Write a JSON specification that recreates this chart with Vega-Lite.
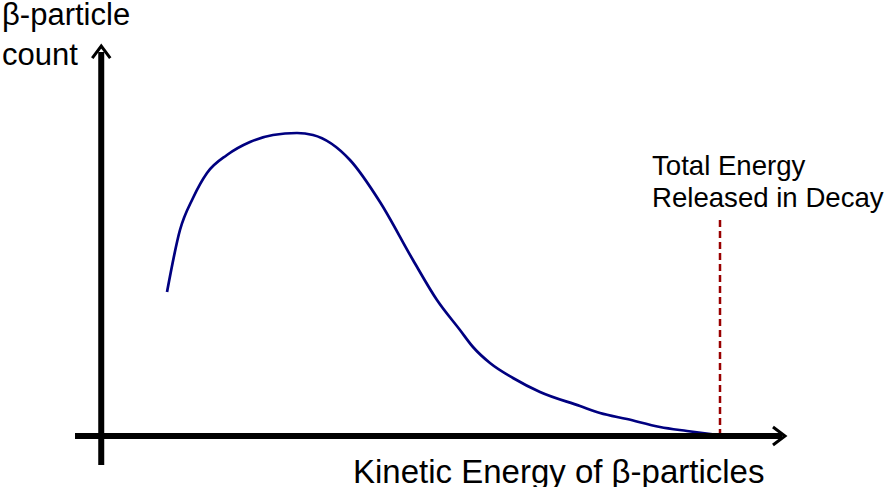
{
  "$schema": "https://vega.github.io/schema/vega-lite/v6.json",
  "width": 620,
  "height": 303,
  "autosize": "none",
  "padding": {"left": 100, "top": 133, "right": 166, "bottom": 51},
  "background": "white",
  "config": {"view": {"stroke": null}},
  "datasets": {
    "curve": [
      {"energy": 10.81, "count": 47.52},
      {"energy": 12.9, "count": 67.99},
      {"energy": 15.0, "count": 78.55},
      {"energy": 17.26, "count": 86.8},
      {"energy": 20.48, "count": 92.74},
      {"energy": 24.19, "count": 97.03},
      {"energy": 27.9, "count": 99.34},
      {"energy": 31.77, "count": 100},
      {"energy": 34.35, "count": 99.34},
      {"energy": 40.32, "count": 91.09},
      {"energy": 45.16, "count": 77.23},
      {"energy": 50.48, "count": 58.09},
      {"energy": 54.35, "count": 44.88},
      {"energy": 58.06, "count": 34.98},
      {"energy": 60.16, "count": 29.37},
      {"energy": 62.9, "count": 24.09},
      {"energy": 66.61, "count": 19.14},
      {"energy": 70.97, "count": 14.52},
      {"energy": 77.42, "count": 9.9},
      {"energy": 80.65, "count": 7.59},
      {"energy": 85.0, "count": 5.6},
      {"energy": 90.32, "count": 2.97},
      {"energy": 94.68, "count": 1.65},
      {"energy": 100, "count": 0.2}
    ],
    "axes": [
      {"e1": 0.2, "e2": 0.2, "c1": -9.57, "c2": 126.7},
      {"e1": -4.03, "e2": 110.0, "c1": 0, "c2": 0}
    ],
    "arrows": [
      {"e": 0.2, "c": 128.7, "rot": 0},
      {"e": 110.48, "c": 0, "rot": 90}
    ],
    "marker": [
      {"e1": 100, "e2": 100, "c1": 0, "c2": 71.9}
    ],
    "labels": [
      {"e": -15.8, "c": 135.6, "label": "β-particle", "size": 31},
      {"e": -15.8, "c": 122.4, "label": "count", "size": 31},
      {"e": 89.03, "c": 86.14, "label": "Total Energy", "size": 27.6},
      {"e": 89.03, "c": 75.6, "label": "Released in Decay", "size": 27.6},
      {"e": 40.8, "c": -15.5, "label": "Kinetic Energy of β-particles", "size": 33}
    ]
  },
  "layer": [
    {
      "data": {"name": "marker"},
      "mark": {"type": "rule", "color": "#990000", "strokeWidth": 2.5, "strokeDash": [7, 4]},
      "encoding": {
        "x": {"field": "e1", "type": "quantitative", "scale": {"domain": [0, 100], "zero": false, "nice": false}, "axis": null},
        "x2": {"field": "e2"},
        "y": {"field": "c1", "type": "quantitative", "scale": {"domain": [0, 100], "zero": false, "nice": false}, "axis": null},
        "y2": {"field": "c2"}
      }
    },
    {
      "data": {"name": "curve"},
      "mark": {"type": "line", "color": "#000080", "strokeWidth": 2.7, "interpolate": "monotone"},
      "encoding": {
        "x": {"field": "energy", "type": "quantitative"},
        "y": {"field": "count", "type": "quantitative"}
      }
    },
    {
      "data": {"name": "axes"},
      "mark": {"type": "rule", "color": "black", "strokeWidth": 6},
      "encoding": {
        "x": {"field": "e1", "type": "quantitative"},
        "x2": {"field": "e2"},
        "y": {"field": "c1", "type": "quantitative"},
        "y2": {"field": "c2"}
      }
    },
    {
      "data": {"name": "arrows"},
      "mark": {"type": "point", "shape": "M-0.75,1L0,0L0.75,1", "filled": false, "stroke": "black", "strokeWidth": 3, "size": 576, "opacity": 1},
      "encoding": {
        "x": {"field": "e", "type": "quantitative"},
        "y": {"field": "c", "type": "quantitative"},
        "angle": {"field": "rot", "type": "quantitative", "scale": null}
      }
    },
    {
      "data": {"name": "labels"},
      "mark": {"type": "text", "align": "left", "baseline": "alphabetic", "font": "Liberation Sans", "color": "black"},
      "encoding": {
        "x": {"field": "e", "type": "quantitative"},
        "y": {"field": "c", "type": "quantitative"},
        "text": {"field": "label"},
        "size": {"field": "size", "type": "quantitative", "scale": null}
      }
    }
  ]
}
